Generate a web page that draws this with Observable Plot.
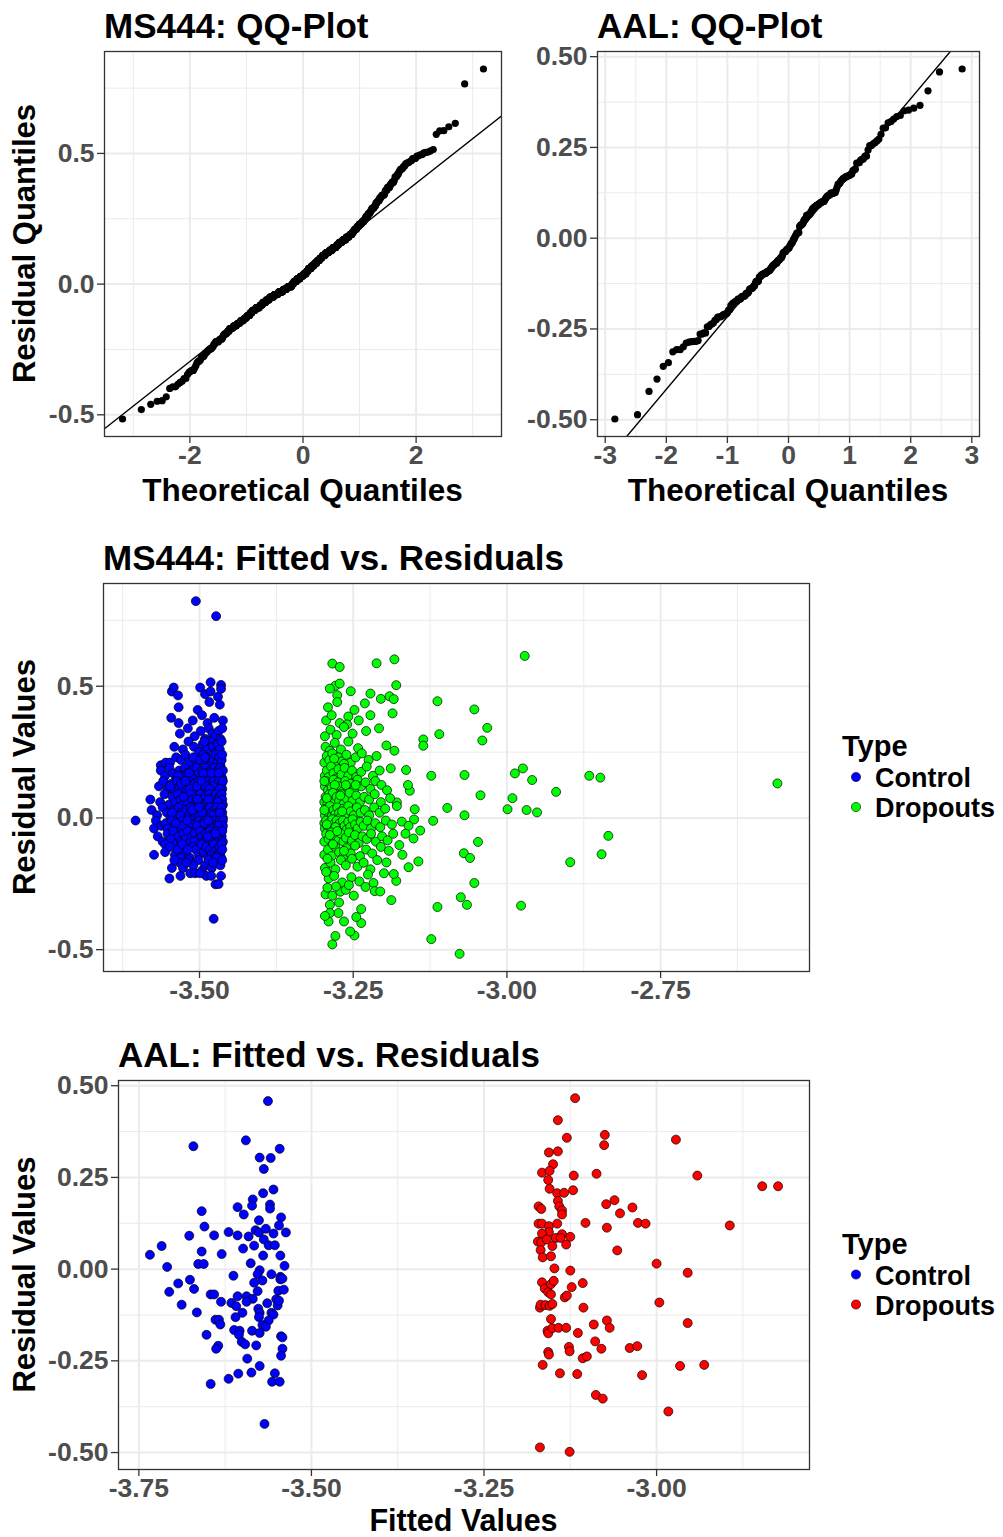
<!DOCTYPE html>
<html>
<head>
<meta charset="utf-8">
<script src="https://cdn.jsdelivr.net/npm/d3@7"></script>
<script src="https://cdn.jsdelivr.net/npm/@observablehq/plot@0.6"></script>
<style>
  body { margin: 0; background: #fff; }
  #page { position: relative; width: 1003px; height: 1537px; overflow: hidden; background: #fff; }
</style>
</head>
<body>
<div id="page"></div>
<script>
// ---- Model residuals: [fitted value, residual] ----
const ms444Control = [
  [-3.506,0.823],[-3.473,0.766],
  [-3.482,0.515],[-3.465,0.505],
  [-3.545,0.48],[-3.542,0.495],[-3.535,0.465],[-3.499,0.495],[-3.491,0.47],[-3.482,0.48],[-3.470,0.46],[-3.465,0.49],
  [-3.534,0.42],[-3.503,0.41],[-3.484,0.44],[-3.467,0.43],
  [-3.546,0.38],[-3.534,0.36],[-3.511,0.37],[-3.496,0.39],[-3.487,0.36],[-3.476,0.38],[-3.462,0.37],
  [-3.532,0.32],[-3.519,0.34],[-3.508,0.31],[-3.498,0.33],[-3.491,0.30],[-3.485,0.34],[-3.479,0.32],[-3.474,0.31],[-3.469,0.33],[-3.466,0.30],[-3.463,0.34],
  [-3.541,0.27],[-3.527,0.26],[-3.518,0.29],[-3.509,0.27],[-3.501,0.25],[-3.495,0.28],[-3.488,0.26],[-3.483,0.29],[-3.478,0.27],[-3.474,0.25],[-3.470,0.28],[-3.467,0.26],[-3.464,0.29],[-3.492,0.29],
  [-3.563,0.20],[-3.555,0.21],[-3.548,0.21],[-3.538,0.23],[-3.530,0.22],[-3.523,0.24],[-3.516,0.21],[-3.510,0.23],[-3.504,0.20],[-3.499,0.22],[-3.494,0.24],[-3.489,0.21],[-3.485,0.23],[-3.481,0.20],[-3.477,0.22],[-3.474,0.24],[-3.471,0.21],[-3.468,0.23],[-3.466,0.20],[-3.464,0.22],[-3.463,0.24],[-3.491,0.23],
  [-3.563,0.18],[-3.556,0.16],[-3.549,0.19],[-3.543,0.17],[-3.538,0.15],[-3.533,0.18],[-3.528,0.16],[-3.524,0.19],[-3.520,0.17],[-3.516,0.15],[-3.512,0.18],[-3.508,0.16],[-3.505,0.19],[-3.501,0.17],[-3.498,0.15],[-3.495,0.18],[-3.492,0.16],[-3.489,0.19],[-3.486,0.17],[-3.484,0.15],[-3.481,0.18],[-3.479,0.16],[-3.476,0.19],[-3.474,0.17],[-3.472,0.15],[-3.470,0.18],[-3.468,0.16],[-3.466,0.19],[-3.465,0.17],[-3.463,0.15],[-3.462,0.18],[-3.517,0.17],[-3.494,0.17],[-3.480,0.17],[-3.535,0.16],[-3.469,0.17],
  [-3.566,0.12],[-3.559,0.14],[-3.552,0.11],[-3.546,0.13],[-3.541,0.10],[-3.537,0.14],[-3.533,0.12],[-3.529,0.10],[-3.525,0.13],[-3.521,0.11],[-3.518,0.14],[-3.514,0.12],[-3.511,0.10],[-3.508,0.13],[-3.505,0.11],[-3.502,0.14],[-3.499,0.12],[-3.496,0.10],[-3.493,0.13],[-3.491,0.11],[-3.488,0.14],[-3.486,0.12],[-3.483,0.10],[-3.481,0.13],[-3.479,0.11],[-3.477,0.14],[-3.475,0.12],[-3.473,0.10],[-3.471,0.13],[-3.469,0.11],[-3.468,0.14],[-3.466,0.12],[-3.465,0.10],[-3.464,0.13],[-3.463,0.11],[-3.462,0.14],[-3.548,0.12],[-3.530,0.13],[-3.516,0.11],[-3.504,0.12],[-3.490,0.12],[-3.478,0.12],[-3.467,0.11],[-3.523,0.14],[-3.497,0.14],[-3.484,0.11],
  [-3.580,0.07],[-3.564,0.06],[-3.557,0.09],[-3.550,0.05],[-3.544,0.08],[-3.539,0.06],[-3.535,0.09],[-3.531,0.07],[-3.527,0.05],[-3.523,0.08],[-3.519,0.06],[-3.515,0.09],[-3.512,0.07],[-3.508,0.05],[-3.505,0.08],[-3.502,0.06],[-3.499,0.09],[-3.496,0.07],[-3.493,0.05],[-3.490,0.08],[-3.487,0.06],[-3.484,0.09],[-3.482,0.07],[-3.479,0.05],[-3.477,0.08],[-3.475,0.06],[-3.473,0.09],[-3.471,0.07],[-3.469,0.05],[-3.467,0.08],[-3.466,0.06],[-3.464,0.09],[-3.463,0.07],[-3.462,0.05],[-3.526,0.08],[-3.503,0.07],[-3.485,0.07],[-3.470,0.06],
  [-3.578,0.03],[-3.569,0.01],[-3.560,0.04],[-3.553,0.02],[-3.547,0.00],[-3.542,0.03],[-3.538,0.01],[-3.534,0.04],[-3.529,0.02],[-3.525,0.00],[-3.521,0.03],[-3.517,0.01],[-3.514,0.04],[-3.510,0.02],[-3.507,0.00],[-3.504,0.03],[-3.500,0.01],[-3.497,0.04],[-3.494,0.02],[-3.491,0.00],[-3.488,0.03],[-3.486,0.01],[-3.483,0.04],[-3.481,0.02],[-3.478,0.00],[-3.476,0.03],[-3.474,0.01],[-3.472,0.04],[-3.470,0.02],[-3.468,0.00],[-3.466,0.03],[-3.465,0.01],[-3.464,0.04],[-3.463,0.02],[-3.462,0.00],[-3.531,0.01],[-3.512,0.03],[-3.496,0.02],[-3.479,0.01],[-3.467,0.02],[-3.545,0.02],[-3.501,0.04],
  [-3.604,-0.01],[-3.571,-0.01],[-3.574,-0.04],[-3.562,-0.03],[-3.555,-0.02],[-3.549,-0.04],[-3.545,-0.01],[-3.541,-0.03],[-3.537,-0.05],[-3.533,-0.02],[-3.530,-0.04],[-3.527,-0.01],[-3.524,-0.03],[-3.521,-0.05],[-3.518,-0.02],[-3.515,-0.04],[-3.513,-0.01],[-3.510,-0.03],[-3.508,-0.05],[-3.506,-0.02],[-3.503,-0.04],[-3.501,-0.01],[-3.499,-0.03],[-3.497,-0.05],[-3.495,-0.02],[-3.493,-0.04],[-3.491,-0.01],[-3.489,-0.03],[-3.487,-0.05],[-3.485,-0.02],[-3.483,-0.04],[-3.482,-0.01],[-3.480,-0.03],[-3.478,-0.05],[-3.477,-0.02],[-3.475,-0.04],[-3.474,-0.01],[-3.472,-0.03],[-3.471,-0.05],[-3.470,-0.02],[-3.468,-0.04],[-3.467,-0.01],[-3.466,-0.03],[-3.465,-0.05],[-3.464,-0.02],[-3.463,-0.04],[-3.462,-0.01],[-3.462,-0.03],[-3.528,-0.03],[-3.516,-0.02],[-3.504,-0.03],[-3.492,-0.02],[-3.479,-0.04],[-3.469,-0.03],[-3.539,-0.02],[-3.552,-0.04],[-3.520,-0.01],[-3.486,-0.01],
  [-3.568,-0.07],[-3.560,-0.09],[-3.552,-0.06],[-3.547,-0.08],[-3.543,-0.05],[-3.538,-0.10],[-3.534,-0.07],[-3.530,-0.09],[-3.526,-0.06],[-3.523,-0.08],[-3.519,-0.05],[-3.515,-0.09],[-3.512,-0.07],[-3.508,-0.06],[-3.505,-0.10],[-3.502,-0.08],[-3.499,-0.05],[-3.496,-0.07],[-3.493,-0.09],[-3.490,-0.06],[-3.488,-0.08],[-3.485,-0.10],[-3.483,-0.05],[-3.481,-0.07],[-3.479,-0.09],[-3.477,-0.06],[-3.475,-0.08],[-3.473,-0.05],[-3.471,-0.07],[-3.469,-0.09],[-3.467,-0.06],[-3.466,-0.08],[-3.465,-0.10],[-3.464,-0.07],[-3.463,-0.05],[-3.462,-0.09],[-3.509,-0.09],[-3.487,-0.07],[-3.474,-0.06],[-3.556,-0.10],
  [-3.574,-0.14],[-3.556,-0.13],[-3.548,-0.11],[-3.540,-0.14],[-3.535,-0.12],[-3.528,-0.10],[-3.522,-0.13],[-3.516,-0.15],[-3.511,-0.11],[-3.506,-0.12],[-3.501,-0.14],[-3.497,-0.10],[-3.493,-0.13],[-3.489,-0.11],[-3.486,-0.15],[-3.483,-0.12],[-3.480,-0.14],[-3.477,-0.10],[-3.475,-0.13],[-3.472,-0.12],[-3.470,-0.14],[-3.468,-0.11],[-3.466,-0.13],[-3.465,-0.15],[-3.464,-0.10],[-3.463,-0.12],[-3.519,-0.12],[-3.530,-0.15],
  [-3.532,-0.17],[-3.518,-0.16],[-3.502,-0.16],[-3.491,-0.18],[-3.474,-0.17],[-3.466,-0.18],[-3.485,-0.16],[-3.472,-0.15],[-3.545,-0.19],[-3.527,-0.19],[-3.510,-0.18],[-3.496,-0.20],[-3.480,-0.19],[-3.463,-0.16],[-3.541,-0.16],[-3.521,-0.17],[-3.478,-0.17],
  [-3.549,-0.23],[-3.531,-0.22],[-3.515,-0.21],[-3.507,-0.21],[-3.489,-0.22],[-3.481,-0.22],[-3.465,-0.22],[-3.499,-0.21],
  [-3.474,-0.252],[-3.469,-0.251],
  [-3.477,-0.383]
];

const ms444Dropouts = [
  [-2.971,0.615],[-3.183,0.602],[-3.212,0.587],[-3.284,0.586],[-3.272,0.573],
  [-3.180,0.504],[-3.279,0.502],[-3.272,0.51],
  [-3.222,0.472],[-3.205,0.452],[-3.191,0.462],[-3.184,0.451],[-3.254,0.481],[-3.288,0.491],[-3.276,0.466],
  [-3.053,0.412],[-3.113,0.443],[-3.291,0.42],[-3.276,0.44],[-3.248,0.41],[-3.231,0.435],
  [-3.186,0.397],[-3.294,0.37],[-3.285,0.39],[-3.272,0.36],[-3.258,0.385],[-3.241,0.37],[-3.222,0.39],[-3.260,0.355],
  [-3.110,0.318],[-3.032,0.342],[-3.296,0.31],[-3.287,0.335],[-3.277,0.315],[-3.265,0.345],[-3.251,0.32],[-3.229,0.33],[-3.208,0.34],
  [-3.183,0.255],[-3.196,0.275],[-3.136,0.298],[-3.136,0.274],[-3.040,0.294],[-3.295,0.27],[-3.288,0.255],[-3.280,0.285],[-3.270,0.26],[-3.258,0.29],[-3.242,0.265],
  [-3.297,0.21],[-3.293,0.235],[-3.289,0.22],[-3.284,0.245],[-3.279,0.205],[-3.274,0.23],[-3.268,0.215],[-3.261,0.24],[-3.254,0.21],[-3.246,0.23],[-3.236,0.245],[-3.225,0.22],[-3.212,0.235],[-3.281,0.225],[-3.265,0.205],
  [-3.164,0.182],[-3.189,0.188],[-3.069,0.163],[-3.123,0.160],[-2.866,0.160],[-2.848,0.153],[-2.974,0.188],[-2.987,0.169],[-3.296,0.16],[-3.293,0.18],[-3.290,0.155],[-3.286,0.195],[-3.282,0.17],[-3.278,0.15],[-3.274,0.185],[-3.269,0.165],[-3.264,0.19],[-3.258,0.16],[-3.252,0.18],[-3.245,0.155],[-3.237,0.175],[-3.228,0.195],[-3.218,0.16],[-3.207,0.18],
  [-2.959,0.144],[-2.560,0.131],[-3.158,0.103],[-3.161,0.125],[-3.296,0.12],[-3.294,0.14],[-3.291,0.105],[-3.288,0.13],[-3.285,0.115],[-3.282,0.145],[-3.278,0.11],[-3.275,0.135],[-3.271,0.12],[-3.267,0.10],[-3.263,0.14],[-3.259,0.115],[-3.254,0.13],[-3.249,0.105],[-3.243,0.145],[-3.237,0.12],[-3.230,0.135],[-3.222,0.11],[-3.214,0.14],[-3.204,0.125],[-3.195,0.105],[-3.280,0.125],[-3.262,0.125],[-3.246,0.125],[-3.297,0.14],
  [-3.179,0.059],[-3.043,0.086],[-2.991,0.075],[-2.920,0.099],[-3.297,0.06],[-3.295,0.08],[-3.292,0.055],[-3.289,0.09],[-3.286,0.07],[-3.283,0.095],[-3.280,0.06],[-3.277,0.08],[-3.273,0.065],[-3.269,0.09],[-3.265,0.055],[-3.261,0.075],[-3.256,0.095],[-3.251,0.065],[-3.245,0.085],[-3.239,0.06],[-3.232,0.08],[-3.224,0.07],[-3.215,0.09],[-3.205,0.06],[-3.190,0.075],[-3.293,0.075],[-3.271,0.085],
  [-3.150,0.033],[-3.069,0.01],[-2.999,0.033],[-2.968,0.03],[-2.951,0.021],[-3.097,0.038],[-3.296,0.01],[-3.294,0.035],[-3.291,0.02],[-3.288,0.045],[-3.285,0.005],[-3.282,0.03],[-3.279,0.015],[-3.276,0.04],[-3.273,0.02],[-3.270,0.005],[-3.266,0.035],[-3.262,0.015],[-3.258,0.045],[-3.254,0.025],[-3.249,0.01],[-3.244,0.04],[-3.238,0.02],[-3.231,0.03],[-3.224,0.01],[-3.216,0.04],[-3.207,0.02],[-3.198,0.035],[-3.179,0.045],[-3.297,0.03],[-3.268,0.025],
  [-3.141,-0.048],[-3.151,-0.006],[-3.171,-0.014],[-3.120,-0.011],[-3.297,-0.02],[-3.296,-0.04],[-3.294,-0.01],[-3.292,-0.03],[-3.290,-0.045],[-3.288,-0.015],[-3.286,-0.035],[-3.284,-0.005],[-3.282,-0.025],[-3.280,-0.045],[-3.277,-0.01],[-3.275,-0.03],[-3.272,-0.02],[-3.270,-0.04],[-3.267,-0.01],[-3.264,-0.03],[-3.261,-0.045],[-3.258,-0.015],[-3.255,-0.035],[-3.251,-0.005],[-3.247,-0.025],[-3.243,-0.04],[-3.238,-0.015],[-3.233,-0.03],[-3.227,-0.01],[-3.221,-0.04],[-3.214,-0.02],[-3.206,-0.035],[-3.197,-0.01],[-3.187,-0.025],[-3.160,-0.03],[-3.293,-0.025],[-3.279,-0.035],
  [-3.152,-0.078],[-3.047,-0.091],[-2.835,-0.068],[-3.165,-0.06],[-3.297,-0.09],[-3.294,-0.06],[-3.290,-0.08],[-3.286,-0.055],[-3.282,-0.095],[-3.278,-0.07],[-3.274,-0.085],[-3.270,-0.06],[-3.266,-0.09],[-3.262,-0.075],[-3.257,-0.055],[-3.252,-0.085],[-3.247,-0.065],[-3.241,-0.095],[-3.235,-0.07],[-3.228,-0.08],[-3.221,-0.06],[-3.213,-0.09],[-3.203,-0.07],[-3.194,-0.085],[-3.185,-0.06],[-3.288,-0.065],[-3.276,-0.05],
  [-3.170,-0.14],[-3.175,-0.103],[-3.070,-0.134],[-2.846,-0.138],[-3.297,-0.14],[-3.291,-0.12],[-3.285,-0.145],[-3.279,-0.11],[-3.273,-0.13],[-3.267,-0.15],[-3.261,-0.115],[-3.254,-0.135],[-3.247,-0.105],[-3.239,-0.145],[-3.229,-0.12],[-3.219,-0.135],[-3.205,-0.11],[-3.192,-0.125],[-3.283,-0.10],[-3.265,-0.125],
  [-3.196,-0.169],[-3.160,-0.187],[-3.144,-0.165],[-3.060,-0.152],[-2.897,-0.168],[-3.296,-0.19],[-3.287,-0.17],[-3.279,-0.195],[-3.270,-0.16],[-3.262,-0.18],[-3.252,-0.155],[-3.243,-0.185],[-3.233,-0.17],[-3.222,-0.195],[-3.292,-0.155],[-3.211,-0.16],
  [-3.217,-0.247],[-3.240,-0.241],[-3.053,-0.247],[-3.180,-0.239],[-3.184,-0.213],[-3.200,-0.21],[-3.290,-0.23],[-3.281,-0.22],[-3.268,-0.245],[-3.253,-0.225],[-3.294,-0.205],[-3.226,-0.215],
  [-3.295,-0.29],[-3.284,-0.295],[-3.271,-0.28],[-3.262,-0.273],[-3.249,-0.295],[-3.215,-0.278],[-3.206,-0.279],[-3.278,-0.26],[-3.292,-0.265],[-3.257,-0.255],[-3.230,-0.262],
  [-3.288,-0.33],[-3.273,-0.321],[-3.237,-0.346],[-3.188,-0.312],[-3.113,-0.338],[-3.065,-0.330],[-3.075,-0.301],[-2.977,-0.333],
  [-3.237,-0.399],[-3.290,-0.393],[-3.265,-0.393],[-3.245,-0.376],[-3.274,-0.361],[-3.288,-0.361],[-3.296,-0.372],
  [-3.279,-0.448],[-3.248,-0.446],[-3.255,-0.431],
  [-3.077,-0.516],[-3.284,-0.48],[-3.123,-0.46]
];

const aalControl = [
  [-3.563,0.458],[-3.671,0.335],[-3.595,0.351],[-3.575,0.304],[-3.559,0.303],[-3.546,0.328],[-3.569,0.273],[-3.555,0.217],
  [-3.570,0.207],[-3.585,0.190],[-3.586,0.173],[-3.607,0.169],[-3.598,0.149],[-3.560,0.176],[-3.560,0.165],[-3.659,0.158],
  [-3.576,0.133],[-3.544,0.141],[-3.547,0.119],[-3.655,0.116],[-3.620,0.101],[-3.607,0.092],[-3.591,0.089],[-3.581,0.106],
  [-3.576,0.100],[-3.566,0.110],[-3.555,0.097],[-3.537,0.100],[-3.641,0.092],[-3.677,0.091],[-3.569,0.081],[-3.717,0.063],
  [-3.734,0.039],[-3.659,0.048],[-3.630,0.041],[-3.599,0.056],[-3.583,0.064],[-3.562,0.065],[-3.553,0.065],[-3.570,0.037],
  [-3.545,0.037],[-3.709,0.006],[-3.664,0.014],[-3.656,0.014],[-3.588,0.016],[-3.575,-0.003],[-3.539,0.009],[-3.613,-0.018],
  [-3.578,-0.014],[-3.558,-0.014],[-3.545,-0.021],[-3.545,-0.028],[-3.693,-0.039],[-3.676,-0.029],[-3.583,-0.037],[-3.571,-0.031],
  [-3.706,-0.062],[-3.670,-0.054],[-3.578,-0.060],[-3.548,-0.059],[-3.540,-0.056],[-3.646,-0.069],[-3.641,-0.069],[-3.607,-0.074],
  [-3.594,-0.074],[-3.585,-0.081],[-3.551,-0.082],[-3.688,-0.097],[-3.631,-0.089],[-3.616,-0.092],[-3.609,-0.101],[-3.594,-0.089],
  [-3.564,-0.093],[-3.549,-0.099],[-3.547,-0.086],[-3.577,-0.108],[-3.666,-0.118],[-3.600,-0.119],[-3.575,-0.119],[-3.558,-0.119],
  [-3.555,-0.124],[-3.610,-0.131],[-3.576,-0.131],[-3.639,-0.138],[-3.634,-0.138],[-3.562,-0.140],[-3.632,-0.151],[-3.571,-0.152],
  [-3.566,-0.157],[-3.612,-0.166],[-3.604,-0.168],[-3.586,-0.168],[-3.575,-0.174],[-3.605,-0.179],[-3.652,-0.179],[-3.544,-0.183],
  [-3.542,-0.186],[-3.601,-0.198],[-3.596,-0.205],[-3.635,-0.209],[-3.638,-0.217],[-3.580,-0.208],[-3.542,-0.217],[-3.544,-0.236],
  [-3.593,-0.244],[-3.575,-0.264],[-3.587,-0.282],[-3.606,-0.285],[-3.620,-0.299],[-3.553,-0.284],[-3.557,-0.307],[-3.546,-0.307],
  [-3.646,-0.313],[-3.568,-0.422],[-3.542,-0.026]
];

const aalDropouts = [
  [-3.118,0.466],[-3.143,0.406],[-3.130,0.358],[-3.075,0.366],[-3.076,0.338],[-2.972,0.353],[-3.156,0.318],[-3.143,0.321],
  [-3.150,0.286],[-3.166,0.263],[-3.155,0.268],[-3.120,0.255],[-3.087,0.260],[-2.941,0.255],[-2.847,0.226],[-2.824,0.226],
  [-3.157,0.243],[-3.155,0.219],[-3.144,0.207],[-3.134,0.208],[-3.121,0.215],[-3.143,0.186],[-3.171,0.171],[-3.167,0.164],
  [-3.141,0.171],[-3.137,0.160],[-3.137,0.149],[-3.073,0.177],[-3.061,0.188],[-3.035,0.168],[-3.053,0.152],[-3.027,0.126],
  [-3.016,0.124],[-2.894,0.119],[-3.171,0.124],[-3.166,0.124],[-3.156,0.117],[-3.144,0.124],[-3.103,0.126],[-3.072,0.113],
  [-3.156,0.101],[-3.166,0.097],[-3.137,0.095],[-3.125,0.088],[-3.146,0.085],[-3.139,0.085],[-3.172,0.075],[-3.167,0.073],
  [-3.159,0.081],[-3.151,0.063],[-3.131,0.067],[-3.168,0.052],[-3.165,0.032],[-3.153,0.035],[-3.057,0.051],[-3.000,0.015],
  [-2.955,-0.010],[-3.148,0.002],[-3.125,-0.004],[-3.166,-0.036],[-3.162,-0.053],[-3.157,-0.063],[-3.153,-0.069],[-3.153,-0.041],
  [-3.149,-0.032],[-3.123,-0.049],[-3.107,-0.038],[-3.133,-0.077],[-3.130,-0.072],[-2.996,-0.091],[-3.169,-0.105],[-3.168,-0.097],
  [-3.161,-0.098],[-3.155,-0.100],[-3.151,-0.095],[-3.106,-0.105],[-3.153,-0.136],[-3.072,-0.140],[-2.955,-0.147],[-3.091,-0.151],
  [-3.068,-0.160],[-3.158,-0.168],[-3.157,-0.175],[-3.151,-0.161],[-3.142,-0.160],[-3.131,-0.160],[-3.114,-0.174],[-3.089,-0.197],
  [-3.080,-0.217],[-3.039,-0.215],[-3.028,-0.210],[-3.127,-0.212],[-3.126,-0.224],[-3.157,-0.226],[-3.156,-0.233],[-3.107,-0.243],
  [-3.101,-0.238],[-3.165,-0.261],[-3.140,-0.284],[-3.115,-0.286],[-3.021,-0.289],[-2.966,-0.264],[-2.931,-0.261],[-3.088,-0.343],
  [-3.078,-0.353],[-2.983,-0.388],[-3.169,-0.486],[-3.126,-0.498]
];

// ---- Labels and ticks ----
const groupNames = ["Control", "Dropouts"];
const ms444Colors = ["#0000FF", "#00FF00"];
const aalColors = ["#0000FF", "#FF0000"];
const titles = ["MS444: QQ-Plot", "AAL: QQ-Plot", "MS444: Fitted vs. Residuals", "AAL: Fitted vs. Residuals"];
const ms444QQTicksX = [-2, 0, 2], ms444QQMinorX = [-3, -1, 1, 3];
const ms444TicksY = [-0.5, 0, 0.5], ms444MinorY = [-0.25, 0.25, 0.75];
const aalQQTicksX = [-3, -2, -1, 0, 1, 2, 3], aalQQMinorX = [-2.5, -1.5, -0.5, 0.5, 1.5, 2.5];
const aalTicksY = [-0.5, -0.25, 0, 0.25, 0.5], aalMinorY = [-0.375, -0.125, 0.125, 0.375];
const ms444FitTicksX = [-3.5, -3.25, -3.0, -2.75], ms444FitMinorX = [-3.625, -3.375, -3.125, -2.875, -2.625];
const aalFitTicksX = [-3.75, -3.5, -3.25, -3.0], aalFitMinorX = [-3.625, -3.375, -3.125, -2.875];

// ---- Helpers ----
const W = 1003, H = 1537;
const FONT = "'Liberation Sans', Arial, Helvetica, sans-serif";

// inverse standard normal CDF (Acklam)
function qnorm(p) {
  const a = [-3.969683028665376e+01, 2.209460984245205e+02, -2.759285104469687e+02, 1.383577518672690e+02, -3.066479806614716e+01, 2.506628277459239e+00];
  const b = [-5.447609879822406e+01, 1.615858368580409e+02, -1.556989798598866e+02, 6.680131188771972e+01, -1.328068155288572e+01];
  const c = [-7.784894002430293e-03, -3.223964580411365e-01, -2.400758277161838e+00, -2.549732539343734e+00, 4.374664141464968e+00, 2.938163982698783e+00];
  const d = [7.784695709041462e-03, 3.224671290700398e-01, 2.445134137142996e+00, 3.754408661907416e+00];
  const pl = 0.02425;
  if (p < pl) {
    const q = Math.sqrt(-2 * Math.log(p));
    return (((((c[0]*q+c[1])*q+c[2])*q+c[3])*q+c[4])*q+c[5]) / ((((d[0]*q+d[1])*q+d[2])*q+d[3])*q+1);
  }
  if (p > 1 - pl) {
    const q = Math.sqrt(-2 * Math.log(1 - p));
    return -(((((c[0]*q+c[1])*q+c[2])*q+c[3])*q+c[4])*q+c[5]) / ((((d[0]*q+d[1])*q+d[2])*q+d[3])*q+1);
  }
  const q = p - 0.5, r = q * q;
  return (((((a[0]*r+a[1])*r+a[2])*r+a[3])*r+a[4])*r+a[5])*q / (((((b[0]*r+b[1])*r+b[2])*r+b[3])*r+b[4])*r+1);
}

// sample vs theoretical quantiles, ppoints with a = 0.5
function qqPoints(resid) {
  const s = resid.slice().sort(d3.ascending), n = s.length;
  return s.map((y, i) => ({theoretical: qnorm((i + 0.5) / n), sample: y}));
}
// reference line through the first and third quartiles
function qqLine(resid) {
  const y1 = d3.quantile(resid, 0.25), y3 = d3.quantile(resid, 0.75);
  const x1 = qnorm(0.25), x3 = qnorm(0.75);
  const slope = (y3 - y1) / (x3 - x1);
  return {slope, intercept: y1 - slope * x1};
}
const expand = ([lo, hi], f = 0.05) => [lo - (hi - lo) * f, hi + (hi - lo) * f];

function tagged(rows, group) { return rows.map(([fitted, resid]) => ({fitted, resid, group})); }

const fmt0 = d => String(d);
const fmt1 = d => d.toFixed(1);
const fmt2 = d => d.toFixed(2);

function panel({frame, xDomain, yDomain, xTicks, xMinor, yTicks, yMinor, xFormat, yFormat, marks}) {
  const [x0, y0, x1, y1] = frame;
  const axisStyle = {fontSize: 26.5, fontWeight: "bold", fill: "#4D4D4D", stroke: "#333333", strokeWidth: 1.3, tickSize: 7, label: null};
  const grid = {stroke: "#EBEBEB", strokeOpacity: 1};
  return Plot.plot({
    width: W, height: H,
    marginLeft: x0, marginRight: W - x1, marginTop: y0, marginBottom: H - y1,
    style: `position:absolute;left:0;top:0;background:transparent;overflow:visible;font-family:${FONT};`,
    x: {domain: xDomain, label: null},
    y: {domain: yDomain, label: null},
    marks: [
      Plot.gridX(xMinor, {...grid, strokeWidth: 1}),
      Plot.gridY(yMinor, {...grid, strokeWidth: 1}),
      Plot.gridX(xTicks, {...grid, strokeWidth: 2}),
      Plot.gridY(yTicks, {...grid, strokeWidth: 2}),
      ...marks,
      Plot.frame({stroke: "#333333", strokeWidth: 1.3}),
      Plot.axisX(xTicks, {...axisStyle, tickPadding: 2, tickFormat: xFormat, fontFamily: FONT}),
      Plot.axisY(yTicks, {...axisStyle, tickPadding: 3, tickFormat: yFormat, fontFamily: FONT})
    ]
  });
}

function qqPanel(frame, resid, xTicks, xMinor, yTicks, yMinor, yFormat) {
  const pts = qqPoints(resid);
  const xDomain = expand(d3.extent(pts, d => d.theoretical));
  const yDomain = expand(d3.extent(pts, d => d.sample));
  const {slope, intercept} = qqLine(resid);
  const ref = xDomain.map(x => ({x, y: intercept + slope * x}));
  return panel({
    frame, xDomain, yDomain, xTicks, xMinor, yTicks, yMinor, xFormat: fmt0, yFormat,
    marks: [
      Plot.dot(pts, {x: "theoretical", y: "sample", r: 3.6, fill: "#000", stroke: "none"}),
      Plot.line(ref, {x: "x", y: "y", stroke: "#000", strokeWidth: 1.4, clip: true})
    ]
  });
}

function fitPanel(frame, rows, colors, xTicks, xMinor, yTicks, yMinor, xFormat, yFormat) {
  const xDomain = expand(d3.extent(rows, d => d.fitted));
  const yDomain = expand(d3.extent(rows, d => d.resid));
  return panel({
    frame, xDomain, yDomain, xTicks, xMinor, yTicks, yMinor, xFormat, yFormat,
    marks: groupNames.map((g, i) =>
      Plot.dot(rows.filter(d => d.group === g), {x: "fitted", y: "resid", r: 4.5, fill: colors[i], stroke: "#000", strokeWidth: 0.7})
    )
  });
}

// ---- Panels ----
const page = document.getElementById("page");
const frames = {
  ms444QQ: [104, 51, 501, 436],
  aalQQ: [597, 51, 979, 436],
  ms444Fit: [103, 583, 809, 971],
  aalFit: [118, 1080, 809, 1469]
};

const ms444Rows = [...tagged(ms444Control, "Control"), ...tagged(ms444Dropouts, "Dropouts")];
const aalRows = [...tagged(aalControl, "Control"), ...tagged(aalDropouts, "Dropouts")];

page.append(qqPanel(frames.ms444QQ, ms444Rows.map(d => d.resid), ms444QQTicksX, ms444QQMinorX, ms444TicksY, ms444MinorY, fmt1));
page.append(qqPanel(frames.aalQQ, aalRows.map(d => d.resid), aalQQTicksX, aalQQMinorX, aalTicksY, aalMinorY, fmt2));
page.append(fitPanel(frames.ms444Fit, ms444Rows, ms444Colors, ms444FitTicksX, ms444FitMinorX, ms444TicksY, ms444MinorY, fmt2, fmt1));
page.append(fitPanel(frames.aalFit, aalRows, aalColors, aalFitTicksX, aalFitMinorX, aalTicksY, aalMinorY, fmt2, fmt2));

// ---- Titles, axis titles and legends ----
const ov = d3.select(page).append("svg")
  .attr("width", W).attr("height", H)
  .style("position", "absolute").style("left", 0).style("top", 0)
  .attr("font-family", FONT).attr("font-weight", "bold");

function text(str, x, y, size, {anchor = "start", rotate = 0} = {}) {
  const t = ov.append("text").text(str).attr("font-size", size).attr("fill", "#000").attr("text-anchor", anchor);
  if (rotate) t.attr("transform", `translate(${x},${y}) rotate(${rotate})`);
  else t.attr("x", x).attr("y", y);
}

const cx = f => (f[0] + f[2]) / 2, cy = f => (f[1] + f[3]) / 2;
const panelList = [frames.ms444QQ, frames.aalQQ, frames.ms444Fit, frames.aalFit];
panelList.forEach((f, i) => text(titles[i], f[0], f[1] - 13, 35));

text("Theoretical Quantiles", cx(frames.ms444QQ), 501, 31.5, {anchor: "middle"});
text("Theoretical Quantiles", cx(frames.aalQQ), 501, 31.5, {anchor: "middle"});
text("Fitted Values", cx(frames.aalFit), 1530.5, 30.5, {anchor: "middle"});
text("Residual Quantiles", 35, cy(frames.ms444QQ), 31, {anchor: "middle", rotate: -90});
text("Residual Values", 35, cy(frames.ms444Fit), 31, {anchor: "middle", rotate: -90});
text("Residual Values", 35, cy(frames.aalFit), 31, {anchor: "middle", rotate: -90});

function legend(frame, colors) {
  const c = cy(frame);
  text("Type", 842, c - 21, 29);
  groupNames.forEach((g, i) => {
    ov.append("circle").attr("cx", 856).attr("cy", c + i * 30).attr("r", 4.6)
      .attr("fill", colors[i]).attr("stroke", "#000").attr("stroke-width", 0.6);
    text(g, 875, c + 10 + i * 30, 27);
  });
}
legend(frames.ms444Fit, ms444Colors);
legend(frames.aalFit, aalColors);
</script>
</body>
</html>
